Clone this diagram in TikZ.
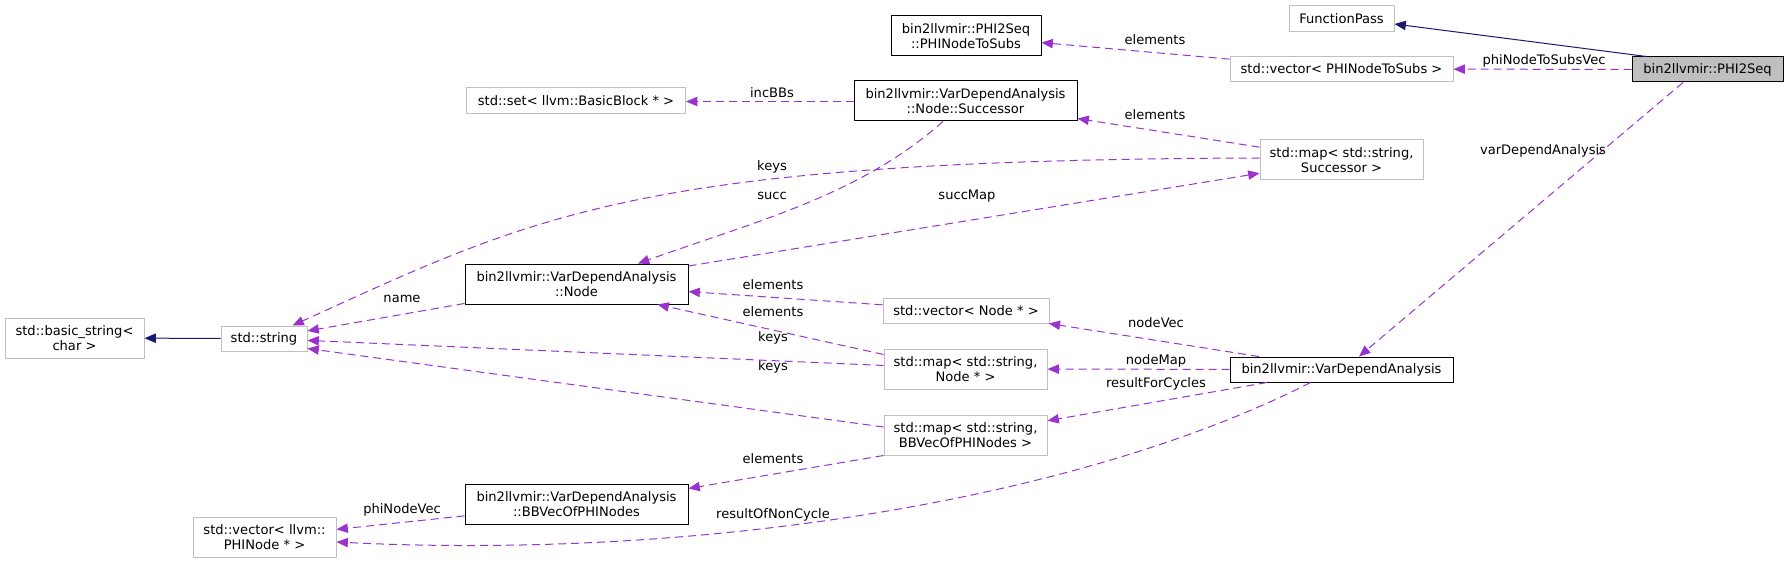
\documentclass[tikz,border=0pt]{standalone}
\usepackage{fontspec}
\setmainfont{DejaVu Sans}
\usetikzlibrary{arrows.meta,calc}

\definecolor{edgeuse}{HTML}{9A32CD}
\definecolor{edgeinh}{HTML}{191970}
\definecolor{extgray}{HTML}{BFBFBF}

\begin{document}
\begin{tikzpicture}[x=0.75pt,y=-0.75pt,
    font=\fontsize{9.8pt}{11.25pt}\selectfont,
    cls/.style={draw=black,line width=0.75pt,fill=white,inner sep=0pt,align=center,minimum height=30pt},
    ext/.style={cls,draw=extgray},
    single/.style={minimum height=18.75pt},
    uses/.style={draw=edgeuse,line width=0.75pt,dash pattern=on 6pt off 3.75pt,-{Triangle[length=8.5pt,width=7pt]}},
    derived/.style={draw=edgeinh,line width=0.75pt,-{Triangle[length=8.5pt,width=7pt]}},
    lbl/.style={inner sep=0pt}]
  \useasboundingbox (0,0) rectangle (1788,563);

  % classes
  \node[cls,single,fill=extgray,minimum width=113.25pt] (phiseq) at (1707.5,69.5) {bin2llvmir::PHI2Seq};
  \node[ext,single,minimum width=78.75pt,minimum height=19.5pt] (fpass) at (1341.5,19) {FunctionPass};
  \node[ext,single,minimum width=167.25pt] (vecsubs) at (1341.5,69) {std::vector< PHINodeToSubs >};
  \node[cls,minimum width=112.5pt] (subs) at (966,36) {bin2llvmir::PHI2Seq\\::PHINodeToSubs};
  \node[ext,minimum width=122.25pt] (mapsucc) at (1341.5,160) {std::map< std::string,\\ Successor >};
  \node[cls,minimum width=167.25pt] (succ) at (965.5,101) {bin2llvmir::VarDependAnalysis\\::Node::Successor};
  \node[ext,single,minimum width=164.25pt,minimum height=19.5pt] (bbset) at (576,101) {std::set< llvm::BasicBlock * >};
  \node[cls,single,minimum width=167.25pt] (vda) at (1341.5,369.5) {bin2llvmir::VarDependAnalysis};
  \node[ext,single,minimum width=124.5pt] (vecnode) at (966,310.5) {std::vector< Node * >};
  \node[ext,minimum width=122.25pt] (mapnode) at (965.5,369) {std::map< std::string,\\ Node * >};
  \node[ext,minimum width=122.25pt] (mapbb) at (965.5,435) {std::map< std::string,\\ BBVecOfPHINodes >};
  \node[cls,minimum width=167.25pt] (vnode) at (576.5,284) {bin2llvmir::VarDependAnalysis\\::Node};
  \node[cls,minimum width=167.25pt] (bbvec) at (576.5,504) {bin2llvmir::VarDependAnalysis\\::BBVecOfPHINodes};
  \node[ext,single,minimum width=64.5pt] (str) at (264,338.5) {std::string};
  \node[ext,minimum width=104.25pt] (basic) at (74.5,338) {std::basic\_string<\\ char >};
  \node[ext,minimum width=107.25pt] (vecphi) at (264.5,537) {std::vector< llvm::\\PHINode * >};

  % inheritance
  \draw[derived] ($(phiseq.north west)+(15,0)$) -- ($(fpass.east)+(0,5)$);
  \draw[derived] (str) -- (basic);

  % members
  \draw[uses] (phiseq) -- (vecsubs) node[lbl] at (1544,61) {phiNodeToSubsVec};
  \draw[uses] (vecsubs) -- (subs) node[lbl] at (1155,40) {elements};
  \draw[uses] ($(phiseq.south)+(-24.5,0)$) -- ($(vda.north)+(17.5,0)$) node[lbl] at (1543,151) {varDependAnalysis};
  \draw[uses] (vda) -- (vecnode) node[lbl] at (1156,323) {nodeVec};
  \draw[uses] (vda) -- (mapnode) node[lbl] at (1156,361) {nodeMap};
  \draw[uses] (vda) -- (mapbb) node[lbl] at (1156,384) {resultForCycles};
  \draw[uses] ($(vda.south)+(-31,0)$) .. controls (1080,500) and (700,560) .. ($(vecphi.east)+(0,5)$)
    node[lbl] at (773,515) {resultOfNonCycle};
  \draw[uses] (bbvec) -- (vecphi) node[lbl] at (402,510) {phiNodeVec};
  \draw[uses] (mapbb.south west) -- ($(bbvec.north east)+(0,5)$) node[lbl] at (773,459) {elements};
  \draw[uses] ($(mapbb.west)+(0,-8)$) -- ($(str.east)+(0,10)$) node[lbl] at (773,367) {keys};
  \draw[uses] (mapnode) -- (str) node[lbl] at (773,338) {keys};
  \draw[uses] ($(mapnode.north west)+(0,6)$) -- ($(vnode.south east)+(-31,0)$) node[lbl] at (773,312) {elements};
  \draw[uses] (vecnode) -- (vnode) node[lbl] at (773,285) {elements};
  \draw[uses] (vnode) -- (str) node[lbl] at (402,299) {name};
  \draw[uses] (vnode) -- (mapsucc) node[lbl] at (967,196) {succMap};
  \draw[uses] (mapsucc) -- (succ) node[lbl] at (1155,115) {elements};
  \draw[uses] ($(succ.west)+(0,0.5)$) -- ($(bbset.east)+(0,0.5)$) node[lbl] at (772,93) {incBBs};
  \draw[uses] ($(succ.south)+(-22.5,0)$) .. controls (860,195) and (760,220) .. ($(vnode.north)+(61.5,0)$)
    node[lbl] at (772,196) {succ};
  \draw[uses] ($(mapsucc.west)+(0,-2)$) .. controls (639,160) and (540,213) .. ($(str.north east)+(-15,0)$)
    node[lbl] at (772,167) {keys};
\end{tikzpicture}
\end{document}
